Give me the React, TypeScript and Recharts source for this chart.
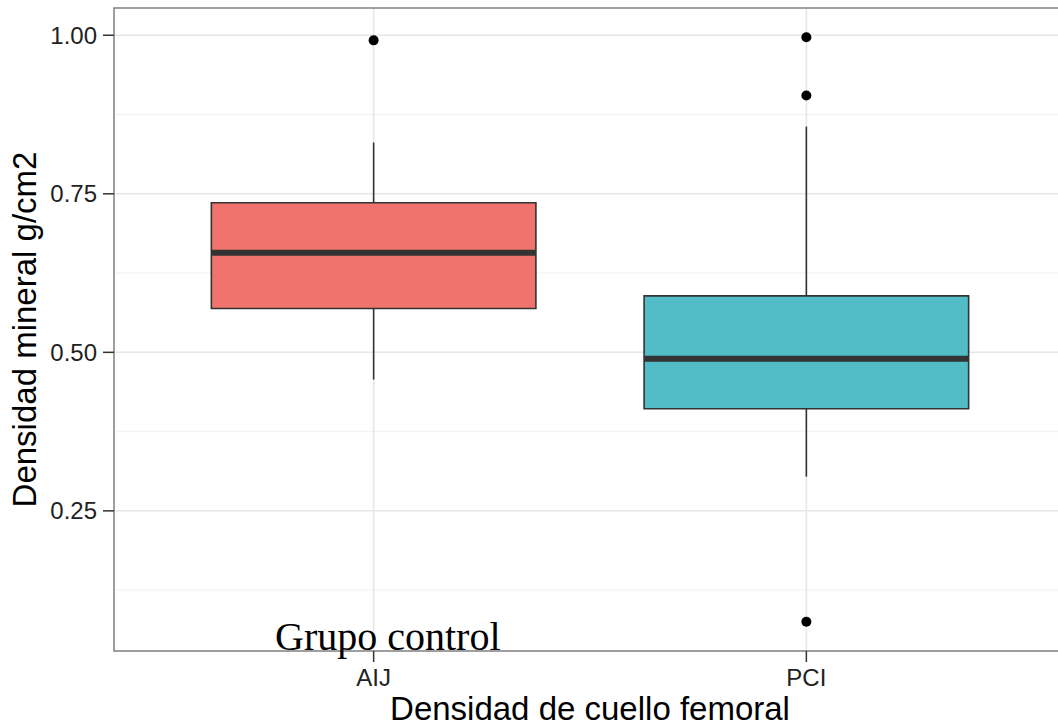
import React from 'react';
import {
  CartesianGrid,
  ComposedChart,
  ReferenceArea,
  ReferenceLine,
  Scatter,
  XAxis,
  YAxis,
} from 'recharts';

// boxplot stats
const groups = ['AIJ', 'PCI'];
const fills = ['#F0746D', '#52BDC6'];
const lowerWhisker = [0.457, 0.304];
const q1 = [0.569, 0.411];
const median = [0.657, 0.49];
const q3 = [0.736, 0.589];
const upperWhisker = [0.831, 0.856];
const outlierGroup = [1, 2, 2, 2];
const outlierValue = [0.992, 0.997, 0.905, 0.075];

const yTicks = [0.25, 0.5, 0.75, 1.0];
const yMinor = [0.125, 0.375, 0.625, 0.875];
const yDomain: [number, number] = [0.029, 1.043];
const xDomain: [number, number] = [0.4, 2.6];
const boxHalf = 0.375;

const outliers = outlierGroup.map((g, i) => ({ x: g, y: outlierValue[i] }));

const sans = '"Liberation Sans", Arial, Helvetica, sans-serif';

export default function App() {
  return (
    <div
      style={{
        position: 'absolute',
        left: 0,
        top: 0,
        width: 1058,
        height: 728,
        overflow: 'hidden',
        background: '#fff',
        fontFamily: sans,
      }}
    >
      <ComposedChart
        width={1070}
        height={728}
        margin={{ top: 8, right: 4, bottom: 0, left: 0 }}
        style={{ fontFamily: sans }}
      >
        <CartesianGrid
          horizontalValues={yMinor}
          vertical={false}
          stroke="#f4f4f4"
          strokeWidth={1.5}
        />
        <CartesianGrid
          horizontalValues={yTicks}
          verticalValues={[1, 2]}
          stroke="#e6e6e6"
          strokeWidth={1.5}
        />
        <XAxis
          type="number"
          dataKey="x"
          domain={xDomain}
          ticks={[1, 2]}
          tickFormatter={(v: number) => groups[v - 1]}
          allowDataOverflow
          axisLine={false}
          tickLine={{ stroke: '#333', strokeWidth: 1.5 }}
          tickSize={11}
          tickMargin={7}
          height={77}
          tick={{ fontSize: 24, fill: '#222' }}
          label={{
            value: 'Densidad de cuello femoral',
            position: 'insideBottom',
            offset: 8,
            fontSize: 33,
            fill: '#000',
          }}
        />
        <YAxis
          type="number"
          dataKey="y"
          domain={yDomain}
          ticks={yTicks}
          tickFormatter={(v: number) => v.toFixed(2)}
          allowDataOverflow
          axisLine={false}
          tickLine={{ stroke: '#333', strokeWidth: 1.5 }}
          tickSize={11}
          tickMargin={6}
          width={114}
          tick={{ fontSize: 24, fill: '#222' }}
          label={{
            value: 'Densidad mineral g/cm2',
            angle: -90,
            position: 'insideLeft',
            offset: 24,
            fontSize: 33,
            fill: '#000',
            style: { textAnchor: 'middle' },
          }}
        />
        {groups.map((g, i) => (
          <ReferenceLine
            key={`wu-${g}`}
            segment={[
              { x: i + 1, y: q3[i] },
              { x: i + 1, y: upperWhisker[i] },
            ]}
            stroke="#333"
            strokeWidth={1.6}
          />
        ))}
        {groups.map((g, i) => (
          <ReferenceLine
            key={`wl-${g}`}
            segment={[
              { x: i + 1, y: lowerWhisker[i] },
              { x: i + 1, y: q1[i] },
            ]}
            stroke="#333"
            strokeWidth={1.6}
          />
        ))}
        {groups.map((g, i) => (
          <ReferenceArea
            key={`box-${g}`}
            x1={i + 1 - boxHalf}
            x2={i + 1 + boxHalf}
            y1={q1[i]}
            y2={q3[i]}
            fill={fills[i]}
            fillOpacity={1}
            stroke="#333"
            strokeWidth={1.6}
          />
        ))}
        {groups.map((g, i) => (
          <ReferenceLine
            key={`med-${g}`}
            segment={[
              { x: i + 1 - boxHalf, y: median[i] },
              { x: i + 1 + boxHalf, y: median[i] },
            ]}
            stroke="#333"
            strokeWidth={6}
          />
        ))}
        <Scatter
          data={outliers}
          isAnimationActive={false}
          shape={(p: any) => <circle cx={p.cx} cy={p.cy} r={5} fill="#000" />}
        />
        <ReferenceArea
          x1={xDomain[0]}
          x2={xDomain[1]}
          y1={yDomain[0]}
          y2={yDomain[1]}
          fill="none"
          stroke="#7f7f7f"
          strokeWidth={1.5}
        />
      </ComposedChart>
      <div
        style={{
          position: 'absolute',
          left: 275,
          top: 617,
          fontFamily: '"Liberation Serif", "Times New Roman", serif',
          fontSize: 40,
          lineHeight: '40px',
          whiteSpace: 'nowrap',
          color: '#000',
        }}
      >
        Grupo control
      </div>
    </div>
  );
}
